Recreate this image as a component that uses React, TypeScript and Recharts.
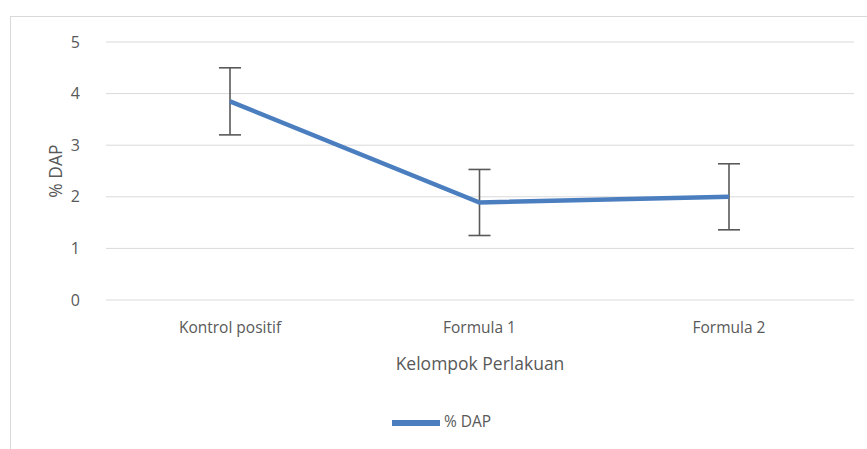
import React from 'react';
import { LineChart, Line, XAxis, YAxis, CartesianGrid, ErrorBar, Legend } from 'recharts';

const categories = ['Kontrol positif', 'Formula 1', 'Formula 2'];
const dapValues = [3.85, 1.89, 2.0];
const dapErrors = [0.65, 0.64, 0.64];
const yTicks = [0, 1, 2, 3, 4, 5];

const data = categories.map((name, i) => ({ name, dap: dapValues[i], err: dapErrors[i] }));

const FONT = '"Open Sans", Lato, sans-serif';

export default function App() {
  return (
    <div style={{ position: 'absolute', left: 0, top: 0, width: 867, height: 449, background: '#fff', overflow: 'hidden' }}>
      <div style={{ position: 'absolute', left: 10, top: 16, width: 900, height: 500, border: '1px solid #d9d9d9', boxSizing: 'border-box' }} />
      <div style={{ position: 'absolute', left: 0, top: 0 }}>
        <LineChart width={867} height={449} data={data} margin={{ top: 42, right: 13, bottom: 119, left: 0 }}>
          <CartesianGrid vertical={false} stroke="#d9d9d9" strokeWidth={1} />
          <XAxis
            dataKey="name"
            axisLine={false}
            tickLine={false}
            height={30}
            padding={{ left: 124, right: 125 }}
            tick={{ fill: '#595959', fontSize: 15.5, fontFamily: FONT }}
            tickMargin={16}
            label={{ value: 'Kelompok Perlakuan', position: 'insideBottom', offset: -40, fill: '#595959', fontSize: 17.5, fontFamily: FONT }}
          />
          <YAxis
            domain={[0, 5]}
            ticks={yTicks}
            width={106}
            axisLine={false}
            tickLine={false}
            tickMargin={20}
            tick={{ fill: '#595959', fontSize: 16, fontFamily: FONT }}
            label={{ value: '% DAP', angle: -90, position: 'insideLeft', offset: 56, fill: '#595959', fontSize: 17.5, fontFamily: FONT, style: { textAnchor: 'middle' } }}
          />
          <Legend
            layout="horizontal"
            verticalAlign="middle"
            align="center"
            iconType="plainline"
            iconSize={48}
            wrapperStyle={{ position: 'absolute', top: 399, left: 13, width: 867, fontFamily: FONT, fontSize: 15.5 }}
            formatter={(v: string) => <span style={{ color: '#595959' }}>{v}</span>}
          />
          <Line
            dataKey="dap"
            name="% DAP"
            stroke="#4a7ebf"
            strokeWidth={4.5}
            dot={false}
            activeDot={false}
            isAnimationActive={false}
            legendType="plainline"
          >
            <ErrorBar dataKey="err" width={11} stroke="#595959" strokeWidth={1.6} />
          </Line>
        </LineChart>
      </div>
    </div>
  );
}
